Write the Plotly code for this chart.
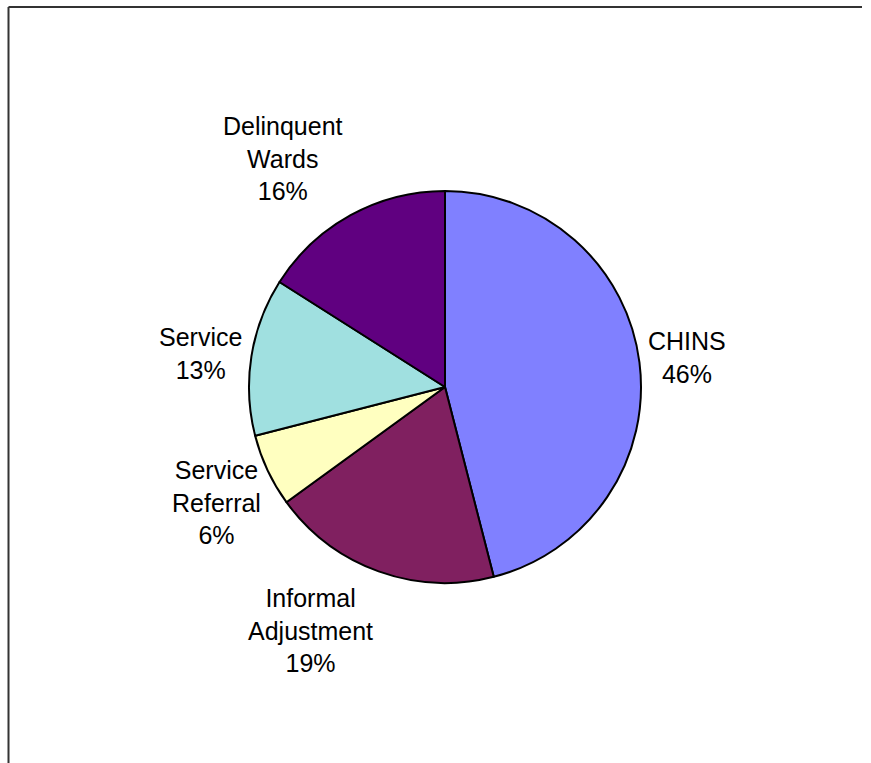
import plotly.graph_objects as go

# Case categories, in clockwise order starting at 12 o'clock
categories = ["CHINS", "Informal Adjustment", "Service Referral", "Service", "Delinquent Wards"]
values = [46, 19, 6, 13, 16]
colors = ["#8080FF", "#802060", "#FFFFC0", "#A0E0E0", "#600080"]

# Multi-line label text for each category
label_text = ["CHINS", "Informal<br>Adjustment", "Service<br>Referral", "Service", "Delinquent<br>Wards"]

W, H = 871, 763
# Label anchor points (pixels from the top-left of the page)
label_pos = [(687, 357), (310, 630), (216, 502), (200, 353), (283, 158)]

# Pie geometry in pixels
cx, cy, r = 445, 387, 196

fig = go.Figure(
    go.Pie(
        labels=categories,
        values=values,
        marker=dict(colors=colors, line=dict(color="black", width=2)),
        sort=False,
        direction="clockwise",
        rotation=0,
        textinfo="none",
        hoverinfo="label+percent",
        domain=dict(x=[(cx - r) / W, (cx + r) / W], y=[1 - (cy + r) / H, 1 - (cy - r) / H]),
        showlegend=False,
    )
)

total = sum(values)
annotations = []
for txt, v, (px, py) in zip(label_text, values, label_pos):
    annotations.append(
        dict(
            x=px / W,
            y=1 - py / H,
            xref="paper",
            yref="paper",
            xanchor="center",
            yanchor="middle",
            showarrow=False,
            align="center",
            text=f"{txt}<br>{round(100 * v / total)}%",
            font=dict(family="Liberation Sans, Arial, sans-serif", size=25, color="black"),
        )
    )

# Frame: only the top and left edges fall inside the page
frame_style = dict(xref="paper", yref="paper", type="line", line=dict(color="#333333", width=2))
fig.update_layout(
    width=W,
    height=H,
    margin=dict(l=0, r=0, t=0, b=0),
    paper_bgcolor="white",
    plot_bgcolor="white",
    annotations=annotations,
    shapes=[
        dict(x0=8.5 / W, x1=862 / W, y0=1 - 7 / H, y1=1 - 7 / H, **frame_style),
        dict(x0=8.5 / W, x1=8.5 / W, y0=0.0, y1=1 - 7 / H, **frame_style),
    ],
)

fig.write_html("out.html", config={"responsive": False})
